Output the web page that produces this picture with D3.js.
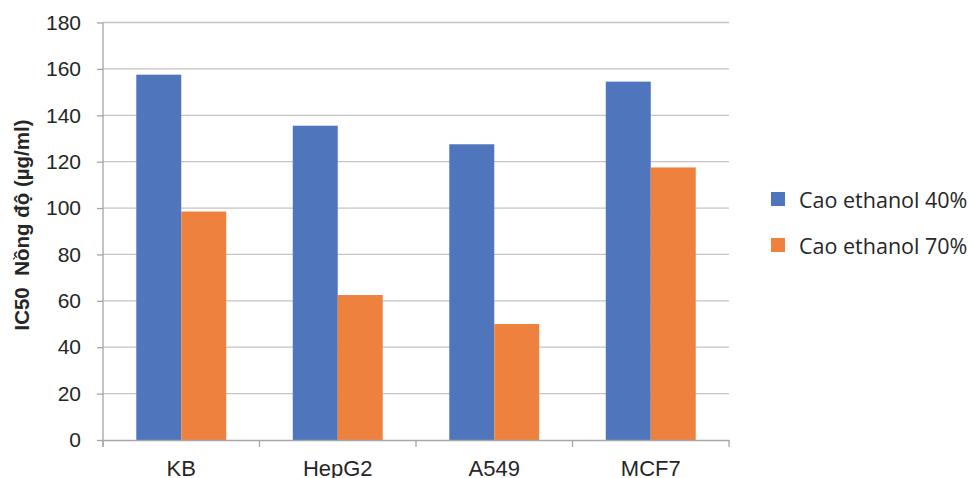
<!DOCTYPE html>
<html><head><meta charset="utf-8">
<script src="https://cdn.jsdelivr.net/npm/d3@7"></script>
<style>body{margin:0;background:#fff;}svg{display:block;}</style>
</head><body>
<svg id="chart" width="969" height="478"></svg>
<script>
const categories = ["KB", "HepG2", "A549", "MCF7"];
const seriesNames = ["Cao ethanol 40%", "Cao ethanol 70%"];
const ethanol40 = [157.5, 135.5, 127.5, 154.5];
const ethanol70 = [98.5, 62.5, 50, 117.5];
const yTicks = [0, 20, 40, 60, 80, 100, 120, 140, 160, 180];
const colors = ["#4f75bd", "#ee813d"];

(function () {
const svg = d3.select("#chart");
const mLeft = 103, mRight = 729, mTop = 22.5, mBottom = 440;

const x = d3.scaleBand().domain(categories).range([mLeft, mRight]).paddingInner(0).paddingOuter(0);
const y = d3.scaleLinear().domain([0, 180]).range([mBottom, mTop]);
const inner = d3.scaleBand().domain([0, 1]).range([0, x.bandwidth()]).paddingInner(0).paddingOuter(0.74);

// gridlines
svg.append("g").selectAll("line").data(yTicks.filter(d => d > 0)).join("line")
  .attr("x1", mLeft).attr("x2", mRight)
  .attr("y1", d => y(d)).attr("y2", d => y(d))
  .attr("stroke", "#c4c4c4").attr("stroke-width", 1.3);

// bars
const series = [ethanol40, ethanol70];
series.forEach((vals, si) => {
  svg.append("g").selectAll("rect").data(categories).join("rect")
    .attr("x", (c) => x(c) + inner(si))
    .attr("width", inner.bandwidth())
    .attr("y", (c, i) => y(vals[i]))
    .attr("height", (c, i) => mBottom - y(vals[i]))
    .attr("fill", colors[si]);
});

// y axis
const yAxis = d3.axisLeft(y).tickValues(yTicks).tickSize(6).tickPadding(16).tickSizeOuter(0);
const gy = svg.append("g").attr("transform", `translate(${mLeft},0)`).call(yAxis);
gy.select(".domain").remove();
gy.selectAll(".tick line").attr("stroke", "#a6a6a6").attr("stroke-width", 1.3);
gy.selectAll("text").attr("font-family", "Liberation Sans, Arial, sans-serif").attr("font-size", 21).attr("fill", "#262626");
svg.append("line").attr("x1", mLeft).attr("x2", mLeft).attr("y1", mTop).attr("y2", mBottom + 7)
  .attr("stroke", "#a6a6a6").attr("stroke-width", 1.3);

// x axis
const gx = svg.append("g").attr("transform", `translate(0,${mBottom})`)
  .call(d3.axisBottom(x).tickSize(0).tickPadding(20));
gx.select(".domain").attr("stroke", "#a6a6a6").attr("stroke-width", 1.3);
gx.selectAll("text").attr("font-family", "Liberation Sans, Arial, sans-serif").attr("font-size", 22).attr("fill", "#262626");
const bounds = categories.map(c => x(c)).concat([x(categories[categories.length-1]) + x.bandwidth()]);
svg.append("g").selectAll("line").data(bounds).join("line")
  .attr("x1", d => d).attr("x2", d => d).attr("y1", mBottom).attr("y2", mBottom + 7)
  .attr("stroke", "#a6a6a6").attr("stroke-width", 1.3);

// y title
svg.append("text").attr("transform", "translate(29,225) rotate(-90)")
  .attr("text-anchor", "middle").attr("font-family", "Liberation Sans, Arial, sans-serif")
  .attr("font-weight", "bold").attr("font-size", 20.5).attr("fill", "#262626")
  .style("white-space", "pre")
  .text("IC50  Nồng độ (µg/ml)");

// legend
const lg = svg.append("g");
seriesNames.forEach((n, i) => {
  const yy = 192 + i * 46;
  lg.append("rect").attr("x", 771).attr("y", yy).attr("width", 14).attr("height", 14).attr("fill", colors[i]);
  lg.append("text").attr("x", 799).attr("y", yy + 15.5).attr("font-family", "Open Sans, sans-serif")
    .attr("font-size", 21.5).attr("fill", "#262626").text(n);
});
})();
</script>
</body></html>
